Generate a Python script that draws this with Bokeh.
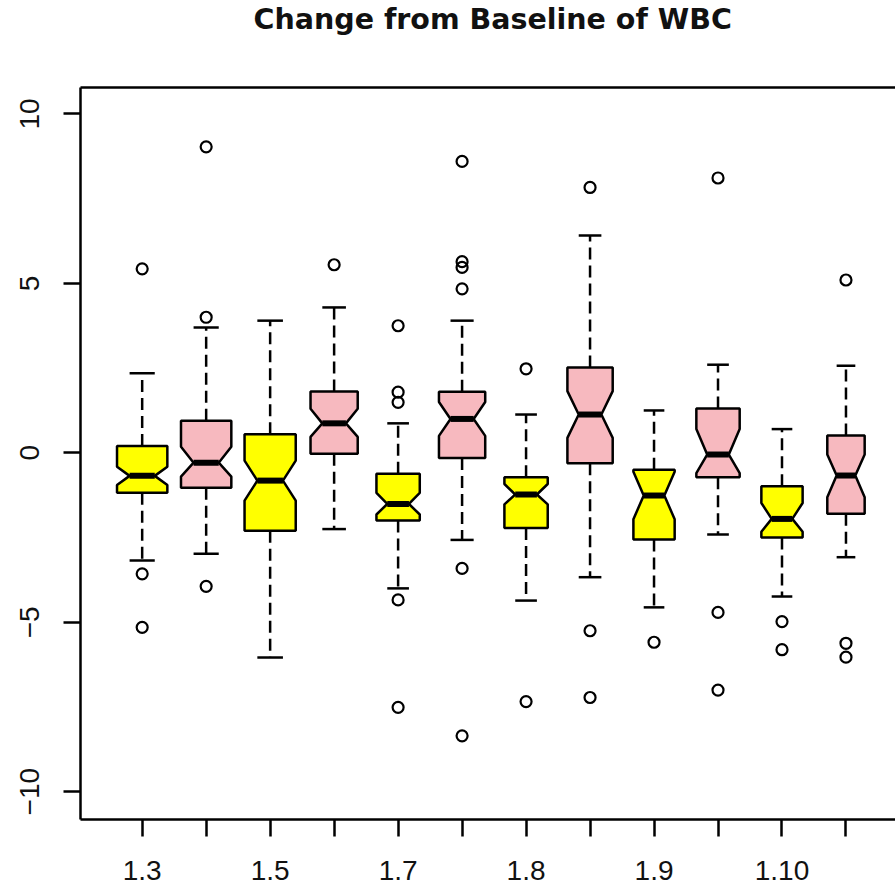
import math
from bokeh.plotting import figure
from bokeh.models import FixedTicker, LinearAxis, Range1d, ColumnDataSource
from bokeh.embed import file_html
from bokeh.resources import INLINE

# ---- data ----
title_text = "Change from Baseline of WBC"
tick_labels = ["1.3", "", "1.5", "", "1.7", "", "1.8", "", "1.9", "", "1.10", ""]
whisker_lo = [-3.18, -2.98, -6.04, -2.25, -4.00, -2.57, -4.36, -3.67, -4.56, -2.41, -4.24, -3.08]
q1 = [-1.18, -1.03, -2.30, -0.03, -2.00, -0.15, -2.22, -0.31, -2.56, -0.72, -2.50, -1.80]
median = [-0.68, -0.29, -0.82, 0.87, -1.51, 1.00, -1.23, 1.13, -1.26, -0.05, -1.95, -0.67]
q3 = [0.20, 0.95, 0.55, 1.81, -0.62, 1.80, -0.72, 2.52, -0.50, 1.31, -0.99, 0.51]
whisker_hi = [2.35, 3.70, 3.90, 4.29, 0.87, 3.90, 1.13, 6.41, 1.25, 2.60, 0.70, 2.57]
notch_lo = [-0.95, -0.70, -1.41, 0.47, -1.82, 0.50, -1.52, 0.44, -1.96, -0.60, -2.33, -1.31]
notch_hi = [-0.41, 0.18, -0.23, 1.30, -1.18, 1.50, -0.92, 1.82, -0.56, 0.70, -1.48, -0.05]
group_n = [58, 58, 60, 51, 43, 49, 43, 47, 39, 43, 39, 32]
outliers = [
    [5.43, -3.57, -5.15],
    [9.03, 4.00, -3.94],
    [],
    [5.55],
    [3.75, 1.79, 1.49, -4.34, -7.51],
    [8.60, 5.64, 5.47, 4.84, -3.41, -8.35],
    [2.48, -7.34],
    [7.83, -5.25, -7.22],
    [-5.59],
    [8.11, -4.71, -7.00],
    [-4.98, -5.81],
    [5.10, -5.62, -6.03],
]
y_ticks = [-10, -5, 0, 5, 10]
box_colors = ["#FFFF00", "#F7B9BF"]

# ---- build glyph sources ----
n_max = max(group_n)
pos = list(range(1, len(median) + 1))
half = [0.4 * math.sqrt(n / n_max) for n in group_n]

xs, ys, fills = [], [], []
for i, x in enumerate(pos):
    w = half[i]
    xs.append([x - w, x + w, x + w, x + w / 2, x + w, x + w, x - w, x - w, x - w / 2, x - w])
    ys.append([q1[i], q1[i], notch_lo[i], median[i], notch_hi[i], q3[i], q3[i],
               notch_hi[i], median[i], notch_lo[i]])
    fills.append(box_colors[i % 2])

box_src = ColumnDataSource(dict(xs=xs, ys=ys, fill=fills))
med_src = ColumnDataSource(dict(x0=[x - h / 2 for x, h in zip(pos, half)],
                                x1=[x + h / 2 for x, h in zip(pos, half)],
                                y=median))
wh_src = ColumnDataSource(dict(x=pos + pos, y0=q3 + q1, y1=whisker_hi + whisker_lo))
st_src = ColumnDataSource(dict(x0=[x - h / 2 for x, h in zip(pos, half)] * 2,
                               x1=[x + h / 2 for x, h in zip(pos, half)] * 2,
                               y=whisker_hi + whisker_lo))
ox, oy = [], []
for x, vals in zip(pos, outliers):
    for v in vals:
        ox.append(x)
        oy.append(v)
out_src = ColumnDataSource(dict(x=ox, y=oy))

# ---- figure ----
p = figure(width=895, height=887, output_backend="svg", toolbar_location=None,
           x_range=Range1d(0.036, 12.774), y_range=Range1d(-10.82, 10.78),
           min_border_left=80, min_border_right=0, min_border_top=87,
           min_border_bottom=68, x_axis_type=None, y_axis_type=None)
p.background_fill_color = "white"
p.border_fill_color = "white"
p.outline_line_color = None
p.xgrid.visible = False
p.ygrid.visible = False

p.title.text = title_text
p.title.align = "left"
p.title.offset = 173
p.title.vertical_align = "bottom"
p.title.standoff = 0
p.title.text_font = "DejaVu Sans"
p.title.text_font_style = "bold"
p.title.text_font_size = "28.5px"
p.title.text_color = "#111111"

axis_kw = dict(axis_line_width=2.5, axis_line_color="black",
               major_tick_line_width=2.5, major_tick_line_color="black",
               major_tick_out=17, major_tick_in=0, minor_tick_line_color=None,
               major_label_text_font="Liberation Sans",
               major_label_text_font_size="28px",
               major_label_text_color="#111111")

xaxis = LinearAxis(ticker=FixedTicker(ticks=pos),
                   major_label_overrides={x: lab for x, lab in zip(pos, tick_labels)},
                   major_label_standoff=24, **axis_kw)
p.add_layout(xaxis, "below")

yaxis = LinearAxis(ticker=FixedTicker(ticks=y_ticks),
                   major_label_orientation="vertical",
                   major_label_standoff=24, **axis_kw)
p.add_layout(yaxis, "left")

# top border of the plotting box; one hidden, unlabelled tick whose length
# reserves the gap between the box and the title
top = LinearAxis(ticker=FixedTicker(ticks=[pos[0]]), major_label_overrides={pos[0]: ""},
                 axis_line_width=2.5, axis_line_color="black",
                 major_tick_line_color=None, major_tick_out=52, major_tick_in=0,
                 major_label_standoff=0, minor_tick_line_color=None,
                 major_label_text_font_size="1px")
p.add_layout(top, "above")

# whiskers, staples, boxes, medians, outliers
p.segment(x0="x", y0="y0", x1="x", y1="y1", source=wh_src, line_color="black",
          line_width=2.5, line_dash="12 6")
p.segment(x0="x0", y0="y", x1="x1", y1="y", source=st_src, line_color="black",
          line_width=2.5)
p.patches(xs="xs", ys="ys", source=box_src, fill_color="fill", line_color="black",
          line_width=2.5)
p.segment(x0="x0", y0="y", x1="x1", y1="y", source=med_src, line_color="black",
          line_width=6)
p.scatter(x="x", y="y", source=out_src, marker="circle", size=11,
          fill_color=None, line_color="black", line_width=2.2)

open("out.html", "w").write(file_html(p, INLINE))
